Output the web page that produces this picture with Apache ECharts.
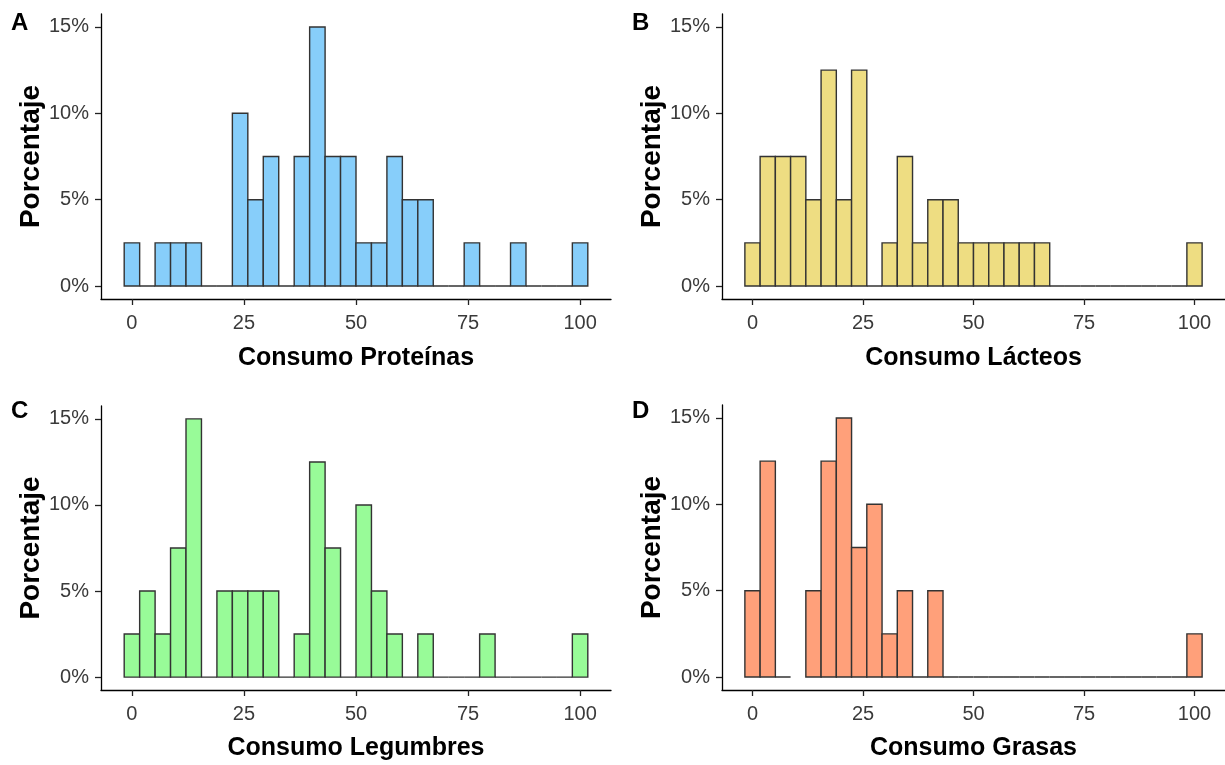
<!DOCTYPE html>
<html>
<head>
<meta charset="utf-8">
<script src="https://cdn.jsdelivr.net/npm/echarts@6/dist/echarts.min.js"></script>
<style>
  html, body { margin: 0; padding: 0; background: #fff; }
  #chart { width: 1225px; height: 765px; }
</style>
</head>
<body>
<div id="chart"></div>
<script>
// 30 intervalos (bins) de ancho 100/29, centrados en 0 ... 100
const binWidth = 100 / 29;
const binCenters = Array.from({ length: 30 }, (_, i) => i * binWidth);

// porcentajes por intervalo (null = sin barra)
const proteinas = [2.5, 0, 2.5, 2.5, 2.5, 0, 0, 10, 5, 7.5, 0, 7.5, 15, 7.5, 7.5,
  2.5, 2.5, 7.5, 5, 5, 0, 0, 2.5, 0, 0, 2.5, 0, 0, 0, 2.5];
const lacteos = [2.5, 7.5, 7.5, 7.5, 5, 12.5, 5, 12.5, 0, 2.5, 7.5, 2.5, 5, 5, 2.5,
  2.5, 2.5, 2.5, 2.5, 2.5, 0, 0, 0, 0, 0, 0, 0, 0, 0, 2.5];
const legumbres = [2.5, 5, 2.5, 7.5, 15, 0, 5, 5, 5, 5, 0, 2.5, 12.5, 7.5, 0,
  10, 5, 2.5, 0, 2.5, 0, 0, 0, 2.5, 0, 0, 0, 0, 0, 2.5];
const grasas = [5, 12.5, 0, null, 5, 12.5, 15, 7.5, 10, 2.5, 5, 0, 5, 0, 0,
  0, 0, 0, 0, 0, 0, 0, 0, 0, 0, 0, 0, 0, 0, 2.5];

const xTicks = [0, 25, 50, 75, 100];
const yTicks = [0, 5, 10, 15];

const panels = [
  { letter: 'A', name: 'Consumo Proteínas', data: proteinas, color: '#87CEFA', left: 101, top: 14, height: 285 },
  { letter: 'B', name: 'Consumo Lácteos', data: lacteos, color: '#EEDD82', left: 722, top: 14, height: 285 },
  { letter: 'C', name: 'Consumo Legumbres', data: legumbres, color: '#98FB98', left: 101, top: 406, height: 284 },
  { letter: 'D', name: 'Consumo Grasas', data: grasas, color: '#FFA07A', left: 722, top: 405, height: 285 }
];

const tickFont = { fontFamily: 'Liberation Sans, Arial, sans-serif', fontSize: 20, color: '#3A3A3A' };
const titleFont = { fontFamily: 'Liberation Sans, Arial, sans-serif', fontWeight: 'bold', color: '#000' };

const chart = echarts.init(document.getElementById('chart'));

const option = {
  backgroundColor: '#fff',
  animation: false,
  grid: panels.map(p => ({ left: p.left, top: p.top, width: 510, height: p.height })),
  xAxis: panels.map((p, i) => ({
    type: 'value',
    gridIndex: i,
    min: -6.9,
    max: 106.9,
    name: p.name,
    nameLocation: 'middle',
    nameGap: i < 2 ? 47 : 46,
    nameTextStyle: Object.assign({ fontSize: 25 }, titleFont),
    splitLine: { show: false },
    axisLine: { onZero: false, lineStyle: { color: '#000', width: 1.3 } },
    axisTick: { length: 6, lineStyle: { color: '#222', width: 1.3 }, customValues: xTicks },
    axisLabel: Object.assign({ margin: 14, customValues: xTicks }, tickFont)
  })),
  yAxis: panels.map((p, i) => ({
    type: 'value',
    gridIndex: i,
    min: -0.75,
    max: 15.75,
    name: 'Porcentaje',
    nameLocation: 'middle',
    nameRotate: 90,
    nameGap: 56,
    nameTextStyle: Object.assign({ fontSize: 28 }, titleFont),
    splitLine: { show: false },
    axisLine: { onZero: false, lineStyle: { color: '#000', width: 1.3 } },
    axisTick: { length: 6, lineStyle: { color: '#222', width: 1.3 }, customValues: yTicks },
    axisLabel: Object.assign({ margin: 12, customValues: yTicks, formatter: '{value}%' }, tickFont)
  })),
  graphic: panels.map((p, i) => ({
    type: 'text',
    left: i % 2 === 0 ? 11 : 632,
    top: i < 2 ? 11 : 399,
    style: Object.assign({ text: p.letter, fontSize: 24 }, titleFont, { fill: '#000' })
  })),
  series: panels.map((p, i) => ({
    type: 'custom',
    xAxisIndex: i,
    yAxisIndex: i,
    data: binCenters.map((c, k) => [c, p.data[k]]),
    renderItem: function (params, api) {
      const v = api.value(1);
      if (isNaN(v)) return null;
      const c = api.value(0);
      const p0 = api.coord([c - binWidth / 2, 0]);
      const p1 = api.coord([c + binWidth / 2, v]);
      return {
        type: 'rect',
        shape: { x: p0[0], y: p1[1], width: p1[0] - p0[0], height: p0[1] - p1[1] },
        style: { fill: p.color, stroke: '#333', lineWidth: 1.4 }
      };
    }
  }))
};

chart.setOption(option);
</script>
</body>
</html>
